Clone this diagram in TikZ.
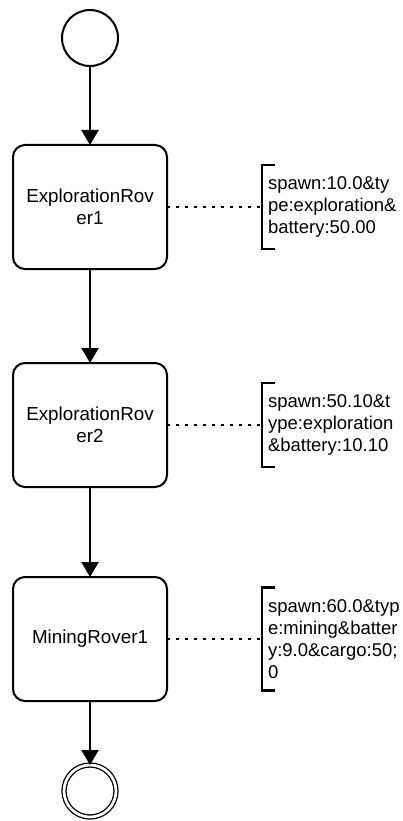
\documentclass[tikz,border=0pt]{standalone}
\usepackage{fontspec}
\setmainfont{Liberation Sans}
\usetikzlibrary{shapes.geometric, arrows.meta, positioning}

\begin{document}
\begin{tikzpicture}[
	  x=1pt, y=1pt,
	  node distance=80pt,
	  event/.style={circle, draw=black, line width=2pt, minimum size=56pt, inner sep=0pt, outer sep=0pt},
	  endevent/.style={circle, draw=black, line width=1.3pt, double, double distance=2.7pt, minimum size=52pt, inner sep=0pt, outer sep=0pt},
	  task/.style={rectangle, rounded corners=12pt, minimum width=154pt, minimum height=124pt, align=center, draw=black, line width=2pt, outer sep=0pt, font=\fontsize{18.8}{22}\selectfont},
	  annot/.style={rectangle, align=left, inner xsep=6pt, inner ysep=12pt, outer sep=0pt, font=\fontsize{18.5}{22}\selectfont},
	  bracket/.style={line width=2.2pt},
	  arrow/.style={line width=2.2pt, -{Triangle[width=17pt, length=15pt]}},
	  assoc/.style={line width=2.2pt, dash pattern=on 2.5pt off 6.5pt}
	]
	\useasboundingbox (0,0) rectangle (402,-821);

	\node (start) [event] at (90,-38) {};
	\node (rover1) [task, below=79pt of start] {ExplorationRov\\er1};
	\node (rover2) [task, below=94pt of rover1] {ExplorationRov\\er2};
	\node (mining) [task, below=90pt of rover2] {MiningRover1};
	\node (finish) [endevent, below=64pt of mining] {};

	\node (attr1) [annot, right=95pt of rover1] {spawn:10.0\&ty\\pe:exploration\&\\battery:50.00};
	\node (attr2) [annot, right=95pt of rover2] {spawn:50.10\&t\\ype:exploration\\\&battery:10.10};
	\node (attr3) [annot, right=95pt of mining] {spawn:60.0\&typ\\e:mining\&batter\\y:9.0\&cargo:50;\\0};

	\draw [arrow] (start) -- (rover1);
	\draw [arrow] (rover1) -- (rover2);
	\draw [arrow] (rover2) -- (mining);
	\draw [arrow] (mining) -- (finish);

	% annotation brackets
	\foreach \n in {attr1, attr2, attr3} {
	  \draw [bracket] ([xshift=13pt]\n.north west) -- (\n.north west) -- (\n.south west) -- ([xshift=13pt]\n.south west);
	}
	\draw [assoc] (rover1) -- (attr1);
	\draw [assoc] (rover2) -- (attr2);
	\draw [assoc] (mining) -- (attr3);

\end{tikzpicture}
\end{document}
